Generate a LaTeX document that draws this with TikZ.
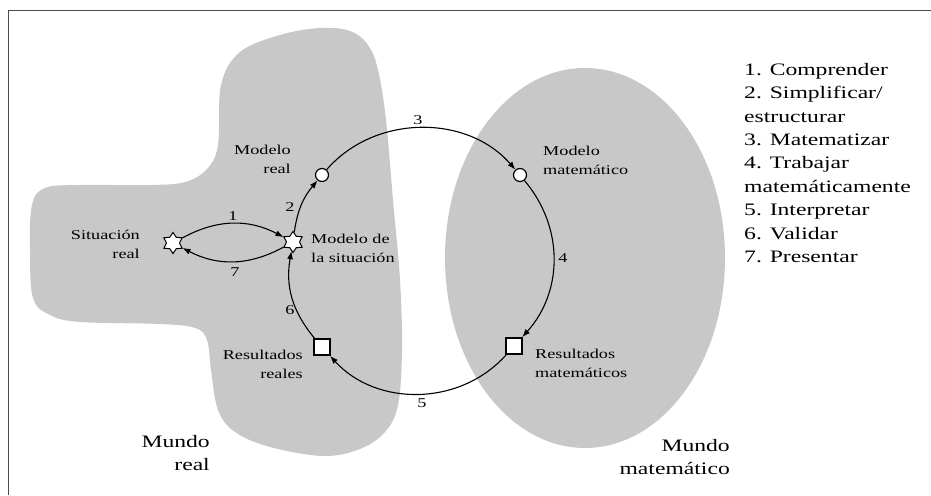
\documentclass[tikz,border=0pt]{standalone}
\usepackage{fontspec}
\setmainfont{Liberation Serif}[FakeStretch=1.35]
\usetikzlibrary{shapes.geometric,arrows.meta}

\definecolor{mundo}{RGB}{200,200,200}

\begin{document}
\begin{tikzpicture}[x=1pt,y=1pt,
  txt/.style={font=\fontsize{13.5}{19}\selectfont, inner sep=0pt},
  big/.style={font=\fontsize{17.5}{23.4}\selectfont, inner sep=0pt},
  hole/.style={circle, draw, fill=white, line width=1.2pt, minimum size=13pt, inner sep=0pt},
  box/.style={rectangle, draw, fill=white, line width=1.8pt, minimum size=16pt, inner sep=0pt},
  spark/.style={star, star points=6, star point ratio=1.6, draw, fill=white, line width=1pt, minimum size=21pt, inner sep=0pt},
  flow/.style={line width=1.1pt, -{Latex[length=8pt,width=6pt]}}]
\useasboundingbox (0,0) rectangle (931,495);
% frame
\draw[black!70, line width=0.8pt] (931,485) -- (8,485) -- (8,0);
% the two worlds
\fill[mundo] plot[smooth cycle, tension=0.6] coordinates {(218,350) (221,410) (240,443)
  (280,460) (320,467) (350,464) (368,450) (378,425) (386,375) (393,295) (400,215)
  (402,145) (398,90) (385,63) (360,46) (323,39) (270,48) (235,63) (218,85) (211,125)
  (207,155) (195,167) (160,171) (80,173) (50,180) (33,197) (30,245) (32,290) (45,307)
  (80,310) (150,310) (185,313) (207,326)};
\fill[mundo] (585,237) ellipse[x radius=140, y radius=190];
% steps of the cycle
\node[spark] (sit) at (173,252){};
\node[spark] (msit) at (293,253){};
\node[hole] (mreal) at (322,320){};
\node[hole] (mmat) at (520,320){};
\node[box] (rmat) at (514,149){};
\node[box] (rreal) at (322,148){};
\draw[flow] (sit) to[bend left=28] (msit);
\draw[flow] (msit) to[bend left=28] (sit);
\draw[flow] (msit) to[bend left=16] (mreal);
\draw[flow] (mreal) to[bend left=49] (mmat);
\draw[flow] (mmat) to[bend left=41] (rmat);
\draw[flow] (rmat) to[bend left=48] (rreal);
\draw[flow] (rreal) to[bend left=25] (msit);
% numbers
\node[txt] (n1) at (233,279){1};
\node[txt] (n2) at (290,288){2};
\node[txt] (n3) at (418,375){3};
\node[txt] (n4) at (563,237){4};
\node[txt] (n5) at (422,92){5};
\node[txt] (n6) at (290,185){6};
\node[txt] (n7) at (235,223){7};
% labels
\node[txt, anchor=east, align=right] (lsit) at (140,251){Situación\\real};
\node[txt, anchor=west, align=left] (lmsit) at (311,247){Modelo de\\la situación};
\node[txt, anchor=east, align=right] (lmreal) at (291,336){Modelo\\real};
\node[txt, anchor=west, align=left] (lmmat) at (543,335){Modelo\\matemático};
\node[txt, anchor=west, align=left] (lrmat) at (535,132){Resultados\\matemáticos};
\node[txt, anchor=east, align=right] (lrreal) at (303,131){Resultados\\reales};
\node[big, anchor=east, align=right] (wreal) at (210,42){Mundo\\real};
\node[big, anchor=east, align=right] (wmat) at (730,38){Mundo\\matemático};
% legend
\node[big, anchor=north west, align=left] (leg) at (744,432){1. Comprender\\2. Simplificar/\\estructurar\\3. Matematizar\\4. Trabajar\\matemáticamente\\5. Interpretar\\6. Validar\\7. Presentar};
\end{tikzpicture}
\end{document}
